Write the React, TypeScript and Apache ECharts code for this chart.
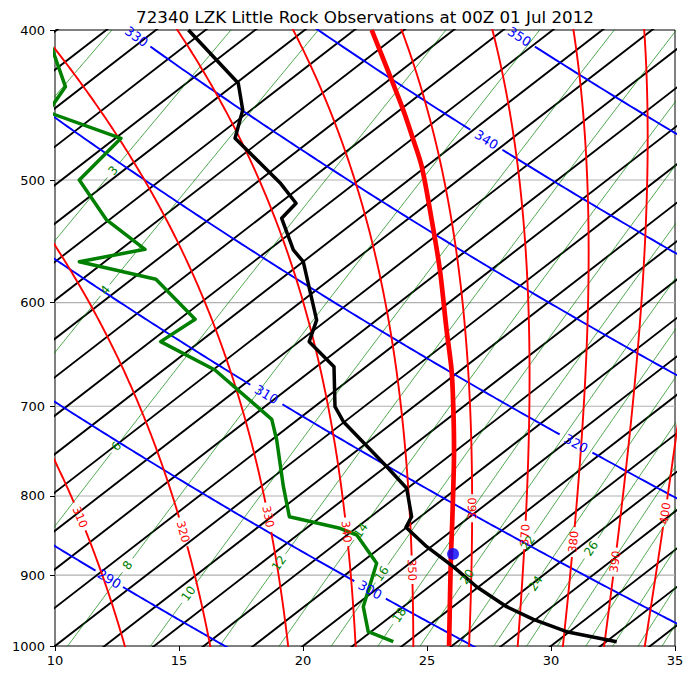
import React, { useEffect, useRef } from 'react';
import * as echarts from 'echarts';

// ---------------- values ----------------
const chartTitle = '72340 LZK Little Rock Observations at 00Z 01 Jul 2012';
const xTickValues = [10, 15, 20, 25, 30, 35];
const pressureTicks = [400, 500, 600, 700, 800, 900, 1000];
const gridPressures = [500, 600, 700, 800, 900];

// temperature profile: pressure (hPa) and position on the skewed x axis
const tempPressure = [400, 433.0, 450.5, 469.9, 502.0, 517.6, 529.3, 554.8, 564.6, 615.8, 635.9, 660.0, 700.5, 716.3, 765.9, 790.9, 825.0, 838.1, 862.7, 888.7, 915.6, 943.2, 961.1, 978.9, 993.6];
const tempX = [15.38, 17.39, 17.57, 17.26, 19.07, 19.72, 19.14, 19.61, 20.01, 20.55, 20.25, 21.25, 21.29, 21.63, 23.38, 24.18, 24.38, 24.15, 24.99, 26.06, 27.0, 28.21, 29.29, 30.63, 32.65];

// dewpoint profile
const dewPressure = [409, 435.2, 452.0, 469.9, 500.0, 530.6, 554.3, 564.6, 579.6, 615.1, 635.9, 663.3, 713.8, 736.1, 789.0, 825.0, 839.4, 847.8, 884.3, 943.2, 978.9, 993.6];
const dewX = [9.83, 10.42, 9.71, 12.66, 10.98, 12.08, 13.63, 10.98, 14.07, 15.65, 14.26, 16.45, 18.74, 18.94, 19.21, 19.45, 21.49, 22.17, 22.97, 22.43, 22.63, 23.64];

// parcel path (thick red)
const parcelPressure = [400, 425.6, 450.5, 471.1, 490.2, 530.6, 571.6, 625.0, 663.3, 700.5, 747.1, 829.1, 879.9, 1000];
const parcelX = [22.77, 23.44, 24.04, 24.45, 24.79, 25.19, 25.52, 25.79, 25.99, 26.06, 26.09, 26.02, 25.96, 25.89];

// LCL marker
const lclPressure = 872;
const lclX = 26.05;

// diagram reference lines
const isothermLevels = [-24, -22, -20, -18, -16, -14, -12, -10, -8, -6, -4, -2, 0, 2, 4, 6, 8, 10, 12, 14, 16, 18, 20, 22, 24, 26, 28, 30, 32, 34];
const thetaLevels = [280, 290, 300, 310, 320, 330, 340, 350, 360];
const thetaLabelPressure = [0, 905, 920, 688, 740, 404, 471, 404, 0];
const thetaELevels = [310, 320, 330, 340, 350, 360, 370, 380, 390, 400];
// where each equivalent-potential-temperature label sits (skewed x, pressure)
const thetaELabelX = [11.01, 15.17, 18.6, 21.76, 24.4, 26.82, 28.95, 30.9, 32.58, 34.6];
const thetaELabelPressure = [825.4, 843.6, 825.0, 843.6, 893.1, 814.8, 847.8, 856.3, 882.1, 820.9];
const mixingLevels = [2, 3, 4, 6, 8, 10, 12, 14, 16, 18, 20, 22, 24, 26, 28, 30, 32, 34, 36];
const mixingLabelLevels = [3, 4, 6, 8, 10, 12, 14, 16, 18, 20, 22, 24, 26];
const mixingLabelPressure = [493, 589, 743, 887, 925, 884, 842, 898, 955, 902, 858, 911, 865];

// ---------------- diagram geometry ----------------
const SKEW = 35;
const KAPPA = 0.2857;
const LV_OVER_CP = 2490;
const FONT = '"DejaVu Sans", "Liberation Sans", sans-serif';

const uOf = (p: number) => Math.log(1000 / p);
const satVap = (t: number) => 6.112 * Math.exp((17.67 * t) / (t + 243.5));
const thetaEValue = (t: number, p: number) => {
  const tk = t + 273.15;
  const e = satVap(t);
  const r = (0.622 * e) / (p - e);
  return tk * Math.pow(1000 / p, KAPPA) * Math.exp((LV_OVER_CP * r) / tk);
};
const solveThetaE = (target: number, p: number) => {
  let lo = -90;
  let hi = 50;
  for (let k = 0; k < 60; k++) {
    const mid = (lo + hi) / 2;
    if (thetaEValue(mid, p) < target) lo = mid;
    else hi = mid;
  }
  return (lo + hi) / 2;
};

type RefLine = {
  xAt: (p: number) => number;
  color: string;
  width: number;
  z: number;
  straight?: boolean;
  label?: string;
  labelP?: number;
  fontSize?: number;
};

function buildRefLines(): RefLine[] {
  const lines: RefLine[] = [];
  isothermLevels.forEach((t) =>
    lines.push({ xAt: (p) => t + SKEW * uOf(p), color: '#000000', width: 1.9, z: 2, straight: true })
  );
  mixingLevels.forEach((r) => {
    const i = mixingLabelLevels.indexOf(r);
    lines.push({
      xAt: (p) => {
        const e = (r * p) / (622 + r);
        const l = Math.log(e / 6.112);
        return (243.5 * l) / (17.67 - l) + SKEW * uOf(p);
      },
      color: '#008000',
      width: 0.7,
      z: 3,
      label: i >= 0 ? String(r) : undefined,
      labelP: i >= 0 ? mixingLabelPressure[i] : undefined,
      fontSize: 12,
    });
  });
  thetaLevels.forEach((th, i) => {
    lines.push({
      xAt: (p) => th * Math.pow(p / 1000, KAPPA) - 273.15 + SKEW * uOf(p),
      color: '#0000ff',
      width: 1.9,
      z: 4,
      label: thetaLabelPressure[i] ? String(th) : undefined,
      labelP: thetaLabelPressure[i] || undefined,
      fontSize: 13,
    });
  });
  thetaELevels.forEach((lv, i) => {
    const p0 = thetaELabelPressure[i];
    const f0 = thetaEValue(thetaELabelX[i] - SKEW * uOf(p0), p0);
    lines.push({
      xAt: (p) => solveThetaE(f0, p) + SKEW * uOf(p),
      color: '#ff0000',
      width: 1.9,
      z: 5,
      label: String(lv),
      labelP: p0,
      fontSize: 11.5,
    });
  });
  return lines;
}

export default function App() {
  const ref = useRef<HTMLDivElement>(null);

  useEffect(() => {
    const el = ref.current;
    if (!el) return;
    const chart = echarts.init(el, null, { renderer: 'svg' });
    const uTop = uOf(400);
    const tickU = pressureTicks.map(uOf);

    const gridSeries = gridPressures.map((gp) => ({
      type: 'line',
      data: [
        [10, uOf(gp)],
        [35, uOf(gp)],
      ],
      symbol: 'none',
      silent: true,
      z: 1,
      lineStyle: { color: '#b0b0b0', width: 1.1 },
    }));

    const base: any = {
      animation: false,
      backgroundColor: '#ffffff',
      grid: {
        left: 55,
        top: 30,
        width: 620,
        height: 616,
        show: true,
        borderColor: '#000000',
        borderWidth: 1,
        backgroundColor: 'transparent',
        containLabel: false,
        outerBoundsMode: 'none',
      },
      xAxis: {
        type: 'value',
        min: xTickValues[0],
        max: xTickValues[xTickValues.length - 1],
        interval: 5,
        axisLine: { show: false },
        axisTick: { show: true, length: 5, lineStyle: { color: '#000', width: 1 } },
        axisLabel: { color: '#000', fontSize: 13, fontFamily: FONT, margin: 8 },
        splitLine: { show: false },
      },
      yAxis: {
        type: 'value',
        min: 0,
        max: uTop,
        axisLine: { show: false },
        axisTick: { show: true, length: 5, customValues: tickU, lineStyle: { color: '#000', width: 1 } },
        axisLabel: {
          customValues: tickU,
          formatter: (v: number) => String(Math.round(1000 * Math.exp(-v))),
          color: '#000',
          fontSize: 13,
          fontFamily: FONT,
          margin: 10,
        },
        splitLine: { show: false },
      },
      series: gridSeries,
    };
    chart.setOption(base);

    const a = chart.convertToPixel({ gridIndex: 0 }, [10, 0]) as number[];
    const b = chart.convertToPixel({ gridIndex: 0 }, [35, uTop]) as number[];
    const sx = (b[0] - a[0]) / 25;
    const sy = (b[1] - a[1]) / uTop;
    const toPx = (x: number, u: number) => [a[0] + (x - 10) * sx, a[1] + u * sy];

    const samplePressures: number[] = [];
    for (let p = 384; p <= 1016; p += 2) samplePressures.push(p);

    const refSeries: any[] = [];
    const labels: any[] = [];
    buildRefLines().forEach((line) => {
      const ps = line.straight ? [1016, 384] : samplePressures;
      const pts = ps.map((p) => [line.xAt(p), uOf(p)]);
      let segments: number[][][] = [pts];
      if (line.label && line.labelP) {
        const p0 = line.labelP;
        const c = toPx(line.xAt(p0), uOf(p0));
        const q1 = toPx(line.xAt(p0 - 3), uOf(p0 - 3));
        const q2 = toPx(line.xAt(p0 + 3), uOf(p0 + 3));
        let ang = Math.atan2(-(q2[1] - q1[1]), q2[0] - q1[0]);
        if (ang > Math.PI / 2) ang -= Math.PI;
        if (ang <= -Math.PI / 2) ang += Math.PI;
        const fs = line.fontSize || 12;
        const hw = (line.label.length * 0.636 * fs) / 2 + 3;
        segments = [];
        let cur: number[][] = [];
        pts.forEach((pt) => {
          const q = toPx(pt[0], pt[1]);
          if (Math.hypot(q[0] - c[0], q[1] - c[1]) < hw) {
            if (cur.length > 1) segments.push(cur);
            cur = [];
          } else cur.push(pt);
        });
        if (cur.length > 1) segments.push(cur);
        labels.push({
          type: 'text',
          x: c[0],
          y: c[1],
          rotation: ang,
          z: 100,
          silent: true,
          style: {
            text: line.label,
            fill: line.color,
            font: `${fs}px ${FONT}`,
            textAlign: 'center',
            textVerticalAlign: 'middle',
            align: 'center',
            verticalAlign: 'middle',
          },
        });
      }
      segments.forEach((seg) =>
        refSeries.push({
          type: 'line',
          data: seg,
          symbol: 'none',
          silent: true,
          clip: true,
          z: line.z,
          lineStyle: { color: line.color, width: line.width },
        })
      );
    });

    const profileSeries: any[] = [
      {
        type: 'line',
        data: parcelPressure.map((p, i) => [parcelX[i], uOf(p)]),
        symbol: 'none',
        smooth: 0.3,
        clip: true,
        z: 6,
        lineStyle: { color: '#ff0000', width: 4.7 },
      },
      {
        type: 'line',
        data: tempPressure.map((p, i) => [tempX[i], uOf(p)]),
        symbol: 'none',
        clip: true,
        z: 7,
        lineStyle: { color: '#000000', width: 3.5, join: 'round' },
      },
      {
        type: 'line',
        data: dewPressure.map((p, i) => [dewX[i], uOf(p)]),
        symbol: 'none',
        clip: true,
        z: 7,
        lineStyle: { color: '#008000', width: 3.5, join: 'round' },
      },
      {
        type: 'scatter',
        data: [[lclX, uOf(lclPressure)]],
        symbol: 'circle',
        symbolSize: 12,
        z: 9,
        itemStyle: { color: '#0000ff' },
      },
    ];

    const titleX = (chart.convertToPixel({ gridIndex: 0 }, [22.5, uTop]) as number[])[0];
    const graphic = [
      ...labels,
      {
        type: 'text',
        x: titleX,
        y: 17,
        z: 100,
        silent: true,
        style: {
          text: chartTitle,
          fill: '#000',
          font: `16.7px ${FONT}`,
          textAlign: 'center',
          textVerticalAlign: 'middle',
          align: 'center',
          verticalAlign: 'middle',
        },
      },
    ];

    chart.setOption({ ...base, series: [...gridSeries, ...refSeries, ...profileSeries], graphic }, true);

    return () => chart.dispose();
  }, []);

  return (
    <div
      ref={ref}
      style={{ position: 'fixed', left: 0, top: 0, width: 694, height: 680, background: '#ffffff' }}
    />
  );
}
